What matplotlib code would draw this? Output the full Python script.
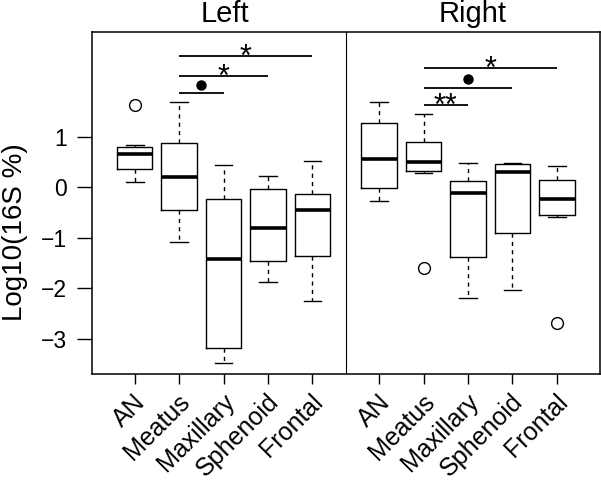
import matplotlib
matplotlib.use('Agg')
import matplotlib.pyplot as plt
import matplotlib.transforms as mtransforms

plt.rcParams['font.family'] = ['Liberation Sans', 'DejaVu Sans']

# sites, same order in both panels
groups = ['AN', 'Meatus', 'Maxillary', 'Sphenoid', 'Frontal']

# Left side box stats (log10 16S %)
left_whishi = [0.83, 1.69, 0.44, 0.22, 0.51]
left_q3 = [0.80, 0.87, -0.24, -0.04, -0.14]
left_med = [0.65, 0.20, -1.43, -0.80, -0.46]
left_q1 = [0.36, -0.46, -3.19, -1.47, -1.36]
left_whislo = [0.10, -1.08, -3.49, -1.87, -2.26]
left_fliers = [[1.62], [], [], [], []]

# Right side box stats
right_whishi = [1.69, 1.45, 0.48, 0.48, 0.42]
right_q3 = [1.27, 0.90, 0.12, 0.45, 0.15]
right_med = [0.55, 0.49, -0.12, 0.29, -0.24]
right_q1 = [-0.01, 0.32, -1.38, -0.90, -0.56]
right_whislo = [-0.27, 0.28, -2.20, -2.03, -0.60]
right_fliers = [[], [-1.61], [], [], [-2.69]]

# significance brackets: Meatus vs group index, label, bar height
left_sig_to = [2, 3, 4]
left_sig_lab = ['dot', '*', '*']
left_sig_h = [1.86, 2.20, 2.59]
right_sig_to = [2, 3, 4]
right_sig_lab = ['**', 'dot', '*']
right_sig_h = [1.62, 1.97, 2.36]

left_pos = [1, 2, 3, 4, 5]
right_pos = [6.5, 7.5, 8.5, 9.5, 10.5]


def make_stats(whislo, q1, med, q3, whishi, fliers):
    stats = []
    for i in range(len(med)):
        stats.append({'whislo': whislo[i], 'q1': q1[i], 'med': med[i],
                      'q3': q3[i], 'whishi': whishi[i], 'fliers': fliers[i]})
    return stats


fig = plt.figure(figsize=(6.01, 4.82), dpi=100)
ax = fig.add_axes([92 / 601, 1 - 374 / 482, 508 / 601, 342 / 482])

box_kw = dict(widths=0.8, capwidths=0.4, showfliers=True, manage_ticks=False,
              boxprops=dict(color='black', lw=1.0),
              whiskerprops=dict(color='black', lw=1.0, linestyle=(0, (3, 3))),
              capprops=dict(color='black', lw=1.0),
              medianprops=dict(color='black', lw=2.6, solid_capstyle='butt'),
              flierprops=dict(marker='o', mfc='none', mec='black', ms=8.5, mew=1.0))

ax.bxp(make_stats(left_whislo, left_q1, left_med, left_q3, left_whishi, left_fliers),
       positions=left_pos, **box_kw)
ax.bxp(make_stats(right_whislo, right_q1, right_med, right_q3, right_whishi, right_fliers),
       positions=right_pos, **box_kw)

ax.axvline(5.75, color='black', lw=0.8)

ax.set_xlim(0.039, 11.47)
ax.set_ylim(-3.70, 3.07)
for sp in ax.spines.values():
    sp.set_linewidth(1.1)

ax.set_yticks([-3, -2, -1, 0, 1])
ax.set_yticklabels(['\u22123', '\u22122', '\u22121', '0', '1'], fontsize=16.5)
ax.tick_params(axis='y', length=11, width=1, pad=7)
ax.set_xticks(left_pos + right_pos)
ax.set_xticklabels([])
ax.tick_params(axis='x', length=7, width=1)

# rotated site labels
lab_off = mtransforms.ScaledTranslation(8.6 / 72, -21 / 72, fig.dpi_scale_trans)
lab_tr = mtransforms.blended_transform_factory(ax.transData, ax.transAxes) + lab_off
for p, g in zip(left_pos + right_pos, groups + groups):
    ax.text(p, 0, g, transform=lab_tr, rotation=45, rotation_mode='anchor',
            ha='right', va='baseline', fontsize=18)

# significance bars
star_fs = 22
star_tr = ax.transData + mtransforms.ScaledTranslation(0, -0.58 * star_fs / 72, fig.dpi_scale_trans)


def draw_sig(pos, to_idx, labels, heights):
    for t, lab, h in zip(to_idx, labels, heights):
        x0, x1 = pos[1], pos[t]
        ax.plot([x0, x1], [h, h], color='black', lw=1.3, solid_capstyle='butt')
        xm = (x0 + x1) / 2
        if lab == 'dot':
            ax.plot([xm], [h + 0.17], marker='o', color='black', ms=6.5)
        else:
            ax.text(xm, h + 0.15, lab, transform=star_tr, ha='center',
                    va='baseline', fontsize=star_fs)


draw_sig(left_pos, left_sig_to, left_sig_lab, left_sig_h)
draw_sig(right_pos, right_sig_to, right_sig_lab, right_sig_h)

# panel titles
title_tr = mtransforms.blended_transform_factory(ax.transData, ax.transAxes)
ax.text(3.03, 1.029, 'Left', transform=title_tr, ha='center', va='baseline', fontsize=21)
ax.text(8.6, 1.029, 'Right', transform=title_tr, ha='center', va='baseline', fontsize=21)

fig.text(15 / 601, 1 - 232 / 482, 'Log10(16S %)', rotation=90, ha='center',
         va='center', fontsize=20)

fig.savefig('out.png', dpi=100)
